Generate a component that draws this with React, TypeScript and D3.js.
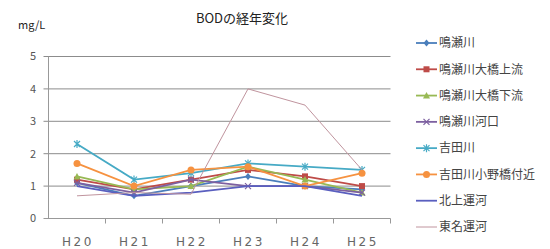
import React from 'react'
import * as d3 from 'd3'

const years = ['H20', 'H21', 'H22', 'H23', 'H24', 'H25']
const seriesNames = [
  '鳴瀬川',
  '鳴瀬川大橋上流',
  '鳴瀬川大橋下流',
  '鳴瀬川河口',
  '吉田川',
  '吉田川小野橋付近',
  '北上運河',
  '東名運河',
]
const naruse = [1.1, 0.7, 1.0, 1.3, 1.0, 0.9]
const naruseUpper = [1.2, 0.9, 1.2, 1.5, 1.3, 1.0]
const naruseLower = [1.3, 0.9, 1.0, 1.6, 1.2, 0.8]
const naruseMouth = [1.1, 0.8, 1.2, 1.0, 1.0, 0.8]
const yoshida = [2.3, 1.2, 1.4, 1.7, 1.6, 1.5]
const yoshidaOno = [1.7, 1.0, 1.5, 1.6, 1.0, 1.4]
const kitakami = [1.0, 0.7, 0.8, 1.0, 1.0, 0.7]
const tomei = [0.7, 0.8, 0.75, 4.0, 3.5, 1.5]
const yTicks = [0, 1, 2, 3, 4, 5]

const seriesValues = [naruse, naruseUpper, naruseLower, naruseMouth, yoshida, yoshidaOno, kitakami, tomei]
const colors = ['#4a7ebb', '#be4b48', '#98b954', '#7d60a0', '#46aac5', '#f69240', '#5a5fbf', '#c0949e']
const markers = ['diamond', 'square', 'triangle', 'x', 'star', 'circle', 'none', 'none']

const W = 550
const H = 249
const plot = { left: 48.5, right: 390.5, top: 56.5, bottom: 218.5 }

function Marker({ type, x, y, color }: { type: string; x: number; y: number; color: string }) {
  const s = 3
  if (type === 'diamond') return <path d={`M${x},${y - s - 0.5}L${x + s},${y}L${x},${y + s + 0.5}L${x - s},${y}Z`} fill={color} />
  if (type === 'square') return <rect x={x - s} y={y - s} width={s * 2} height={s * 2} fill={color} />
  if (type === 'triangle') return <path d={`M${x},${y - s - 0.5}L${x + s + 0.5},${y + s}L${x - s - 0.5},${y + s}Z`} fill={color} />
  if (type === 'x')
    return <path d={`M${x - s},${y - s}L${x + s},${y + s}M${x + s},${y - s}L${x - s},${y + s}`} stroke={color} strokeWidth={1.2} />
  if (type === 'star')
    return (
      <path
        d={`M${x - s},${y - s}L${x + s},${y + s}M${x + s},${y - s}L${x - s},${y + s}M${x},${y - s - 1}L${x},${y + s + 1}`}
        stroke={color}
        strokeWidth={1.2}
      />
    )
  if (type === 'circle') return <circle cx={x} cy={y} r={s + 0.5} fill={color} />
  return null
}

export default function App() {
  const x = d3.scaleBand().domain(years).range([plot.left, plot.right])
  const y = d3.scaleLinear().domain([0, 5]).range([plot.bottom, plot.top])
  const lineGen = d3
    .line<number>()
    .x((d, i) => (x(years[i]) as number) + x.bandwidth() / 2)
    .y((d) => y(d))

  const legendX = 416
  const legendY = d3.scalePoint<number>().domain(d3.range(8)).range([43, 227])
  const jp = '"Noto Sans CJK JP", "Noto Sans", sans-serif'

  return (
    <svg width={W} height={H} style={{ position: 'absolute', left: 0, top: 0, background: '#fff' }} fontFamily={jp}>
      <text x={242} y={23} textAnchor="middle" fontSize={13} fill="#222">
        BODの経年変化
      </text>
      <text x={18} y={29} fontSize={11} fill="#222">
        mg/L
      </text>

      {yTicks.map((t) => (
        <g key={t}>
          <line x1={plot.left - 5} x2={plot.right} y1={y(t)} y2={y(t)} stroke={t === 0 ? '#999' : '#8c8c8c'} strokeWidth={1} />
          <text x={36} y={y(t)} dy="0.35em" textAnchor="end" fontSize={11} fill="#555">
            {t}
          </text>
        </g>
      ))}
      <line x1={plot.left} x2={plot.left} y1={plot.top} y2={plot.bottom} stroke="#999" />
      {years.map((yr, i) => (
        <g key={yr}>
          <line
            x1={(x(yr) as number) + x.bandwidth()}
            x2={(x(yr) as number) + x.bandwidth()}
            y1={plot.bottom}
            y2={plot.bottom + 5}
            stroke="#999"
          />
          <text
            x={(x(yr) as number) + x.bandwidth() / 2 + 1}
            y={246}
            textAnchor="middle"
            fontSize={12}
            letterSpacing={2.5}
            fill="#666"
            fontFamily="'DejaVu Sans', sans-serif"
          >
            {yr}
          </text>
        </g>
      ))}

      {seriesValues.map((vals, si) => (
        <g key={seriesNames[si]}>
          <path d={lineGen(vals) || ''} fill="none" stroke={colors[si]} strokeWidth={si === 7 ? 1 : 1.8} />
          {vals.map((v, i) => (
            <Marker key={i} type={markers[si]} x={(x(years[i]) as number) + x.bandwidth() / 2} y={y(v)} color={colors[si]} />
          ))}
        </g>
      ))}

      {seriesNames.map((name, si) => (
        <g key={name} transform={`translate(${legendX},${legendY(si)})`}>
          <line x1={0} x2={21} y1={0} y2={0} stroke={colors[si]} strokeWidth={si === 7 ? 1 : 1.8} />
          <Marker type={markers[si]} x={10.5} y={0} color={colors[si]} />
          <text x={23} y={0} dy="0.36em" fontSize={12} fill="#444">
            {name}
          </text>
        </g>
      ))}
    </svg>
  )
}
